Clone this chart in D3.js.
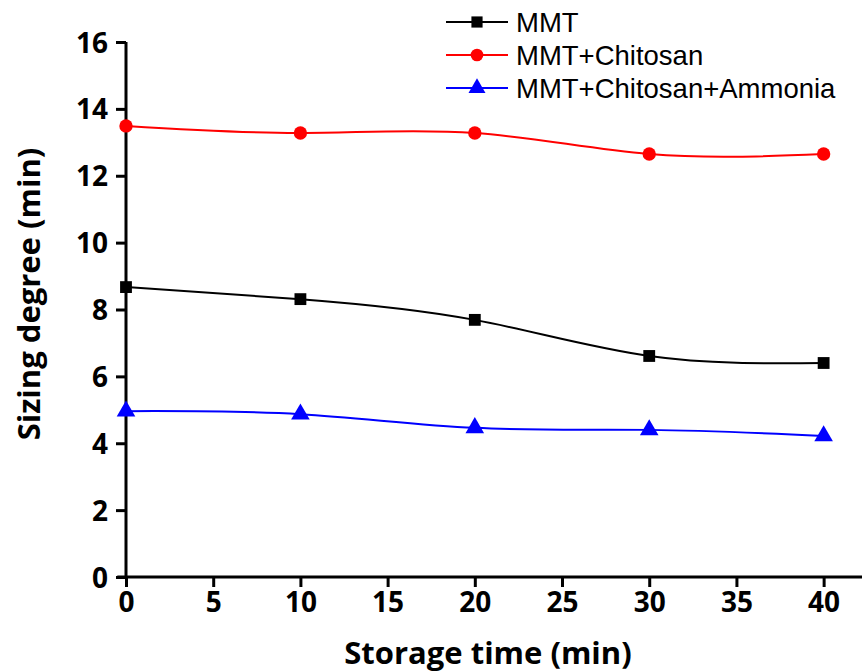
<!DOCTYPE html>
<html>
<head>
<meta charset="utf-8">
<script src="https://cdn.jsdelivr.net/npm/d3@7"></script>
<style>
  body { margin: 0; background: #fff; }
  .tick text { font-family: "Open Sans", "DejaVu Sans", sans-serif; font-weight: 700; font-size: 28px; fill: #000; }
  .axis-title { font-family: "Open Sans", "DejaVu Sans", sans-serif; font-weight: 700; font-size: 31px; }
  .legend text { font-family: "Liberation Sans", Arial, sans-serif; font-size: 27.5px; }
</style>
</head>
<body>
<svg id="chart" width="865" height="672"></svg>
<script>
var times = [0, 10, 20, 30, 40];
var mmt = [8.67, 8.31, 7.69, 6.61, 6.40];
var mmtChitosan = [13.49, 13.28, 13.28, 12.65, 12.65];
var mmtChitosanAmmonia = [4.96, 4.87, 4.46, 4.40, 4.22];
var xTicks = [0, 5, 10, 15, 20, 25, 30, 35, 40];
var yTicks = [0, 2, 4, 6, 8, 10, 12, 14, 16];

var seriesList = [
  {name: "MMT", values: mmt, color: "#000000", symbol: d3.symbolSquare, size: 140},
  {name: "MMT+Chitosan", values: mmtChitosan, color: "#ff0000", symbol: d3.symbolCircle, size: 140},
  {name: "MMT+Chitosan+Ammonia", values: mmtChitosanAmmonia, color: "#0000ff", symbol: d3.symbolTriangle, size: 150}
];

var svg = d3.select("#chart");

var x = d3.scaleLinear().domain([0, 42.2]).range([126, 862]);
var y = d3.scaleLinear().domain([0, 16]).range([577, 42]);

// x axis
var gx = svg.append("g")
    .attr("transform", "translate(0," + y(0) + ")")
    .call(d3.axisBottom(x).tickValues(xTicks).tickSize(10).tickPadding(5).tickSizeOuter(0));
gx.select(".domain").attr("stroke-width", 3).attr("d", "M" + x(-0.5) + ",0H862");
gx.selectAll(".tick line").attr("stroke-width", 3);

// y axis
var gy = svg.append("g")
    .attr("transform", "translate(" + x(0) + ",0)")
    .call(d3.axisLeft(y).tickValues(yTicks).tickSize(10).tickPadding(8).tickSizeOuter(0));
gy.select(".domain").attr("stroke-width", 3).attr("d", "M0," + y(0) + "V" + y(16));
gy.selectAll(".tick line").attr("stroke-width", 3);
gy.selectAll(".tick text").attr("dy", "0.36em");

svg.append("text")
    .attr("class", "axis-title")
    .attr("text-anchor", "middle")
    .attr("x", 488).attr("y", 664)
    .text("Storage time (min)");

svg.append("text")
    .attr("class", "axis-title")
    .attr("text-anchor", "middle")
    .attr("transform", "translate(40,294) rotate(-90)")
    .text("Sizing degree (min)");

var line = d3.line()
    .x(function(d) { return x(d[0]); })
    .y(function(d) { return y(d[1]); })
    .curve(d3.curveNatural);

seriesList.forEach(function(s) {
  var pts = times.map(function(t, i) { return [t, s.values[i]]; });
  svg.append("path")
      .attr("d", line(pts))
      .attr("fill", "none")
      .attr("stroke", s.color)
      .attr("stroke-width", 2);
  svg.selectAll(null)
      .data(pts)
      .enter()
      .append("path")
      .attr("d", d3.symbol().type(s.symbol).size(s.size))
      .attr("transform", function(d) { return "translate(" + x(d[0]) + "," + y(d[1]) + ")"; })
      .attr("fill", s.color);
});

// legend
var legend = svg.append("g").attr("class", "legend");
seriesList.forEach(function(s, i) {
  var ly = 22 + i * 33;
  legend.append("line")
      .attr("x1", 446).attr("x2", 508)
      .attr("y1", ly).attr("y2", ly)
      .attr("stroke", s.color).attr("stroke-width", 2);
  legend.append("path")
      .attr("d", d3.symbol().type(s.symbol).size(125))
      .attr("transform", "translate(477," + ly + ")")
      .attr("fill", s.color);
  legend.append("text")
      .attr("x", 516).attr("y", ly)
      .attr("dy", "0.36em")
      .text(s.name);
});
</script>
</body>
</html>
